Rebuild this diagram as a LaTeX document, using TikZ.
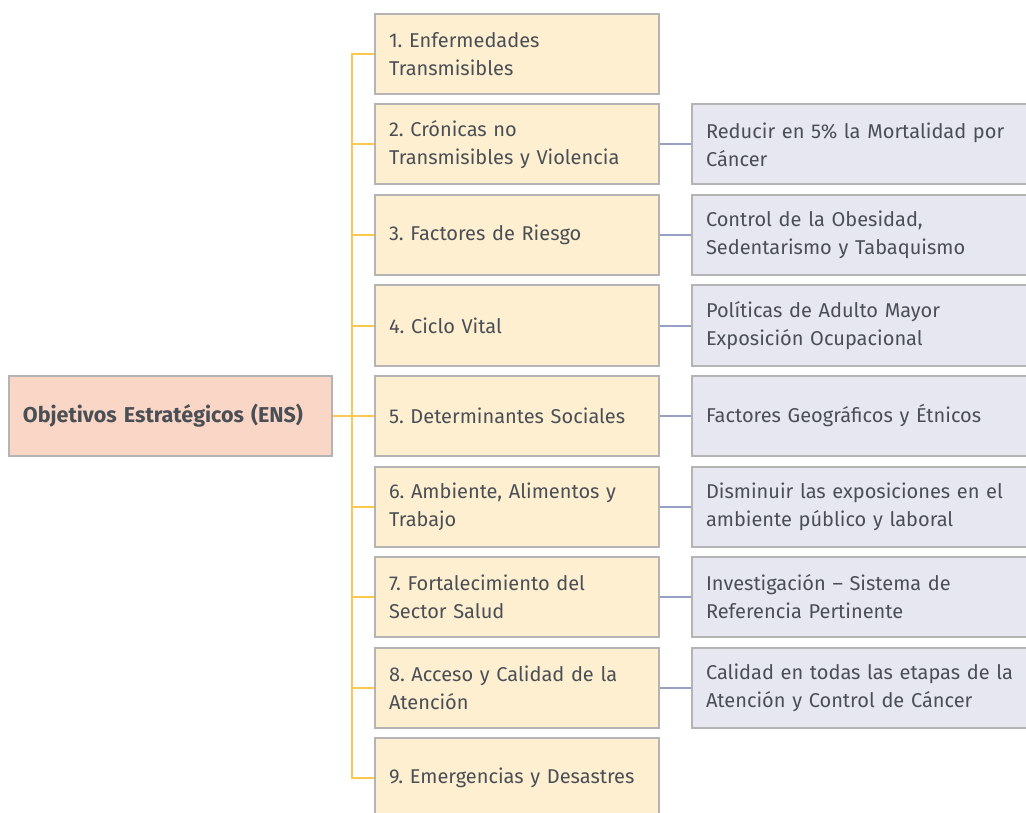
\documentclass[tikz,border=0pt]{standalone}
\usepackage{fontspec}
\setmainfont{Fira Sans}
\frenchspacing
\definecolor{txt}{HTML}{4A4F56}
\definecolor{yfill}{HTML}{FDEFD0}
\definecolor{bfill}{HTML}{E6E7F0}
\definecolor{rfill}{HTML}{F9D6C5}
\definecolor{bord}{HTML}{B4B4B4}
\definecolor{yline}{HTML}{F9C94F}
\definecolor{bline}{HTML}{95A0C4}
\begin{document}
\begin{tikzpicture}[x=1pt,y=1pt,
  ybox/.style={draw=bord,line width=2pt,fill=yfill,anchor=north west,minimum width=284pt,minimum height=80pt,text width=256pt,inner xsep=14pt,align=left,font=\fontsize{20}{28}\selectfont,text=txt},
  bbox/.style={draw=bord,line width=2pt,fill=bfill,anchor=north west,minimum width=360pt,minimum height=80pt,text width=332pt,inner xsep=14pt,align=left,font=\fontsize{20}{28}\selectfont,text=txt},
  rbox/.style={draw=bord,line width=2pt,fill=rfill,anchor=north west,minimum width=323pt,minimum height=80pt,text width=295pt,inner xsep=14pt,align=left,font=\fontsize{21.5}{28}\selectfont\bfseries,text=txt},
  yl/.style={draw=yline,line width=2pt},
  bl/.style={draw=bline,line width=2pt}]
\useasboundingbox (0,0) rectangle (1026,-813);
\fill[white] (0,0) rectangle (1026,-813);
\node[rbox] (root) at (8,-375) {Objetivos Estratégicos (ENS)};
\node[ybox] (b1) at (374,-13) {1. Enfermedades\\Transmisibles};
\node[ybox] (b2) at (374,-103.5) {2. Crónicas no\\Transmisibles y Violencia};
\node[ybox] (b3) at (374,-194) {3. Factores de Riesgo};
\node[ybox] (b4) at (374,-284.5) {4. Ciclo Vital};
\node[ybox] (b5) at (374,-375) {5. Determinantes Sociales};
\node[ybox] (b6) at (374,-465.5) {6. Ambiente, Alimentos y\\Trabajo};
\node[ybox] (b7) at (374,-556) {7. Fortalecimiento del\\Sector Salud};
\node[ybox] (b8) at (374,-646.5) {8. Acceso y Calidad de la\\Atención};
\node[ybox] (b9) at (374,-737) {9. Emergencias y Desastres};
\node[bbox] (r2) at (691,-103.5) {Reducir en 5\% la Mortalidad por\\Cáncer};
\node[bbox] (r3) at (691,-194) {Control de la Obesidad,\\Sedentarismo y Tabaquismo};
\node[bbox] (r4) at (691,-284.5) {Políticas de Adulto Mayor\\Exposición Ocupacional};
\node[bbox] (r5) at (691,-375) {Factores Geográficos y Étnicos};
\node[bbox] (r6) at (691,-465.5) {Disminuir las exposiciones en el\\ambiente público y laboral};
\node[bbox] (r7) at (691,-556) {Investigación – Sistema de\\Referencia Pertinente};
\node[bbox] (r8) at (691,-646.5) {Calidad en todas las etapas de la\\Atención y Control de Cáncer};
\path[yl] (b1.west) -- ++(-22,0) |- (b9.west);
\foreach \i in {2,...,8} {\path[yl] (b\i.west) -- ++(-22,0);}
\path[yl] (root.east) -- (b5.west);
\foreach \i in {2,...,8} {\path[bl] (b\i.east) -- (r\i.west);}
\end{tikzpicture}
\end{document}
